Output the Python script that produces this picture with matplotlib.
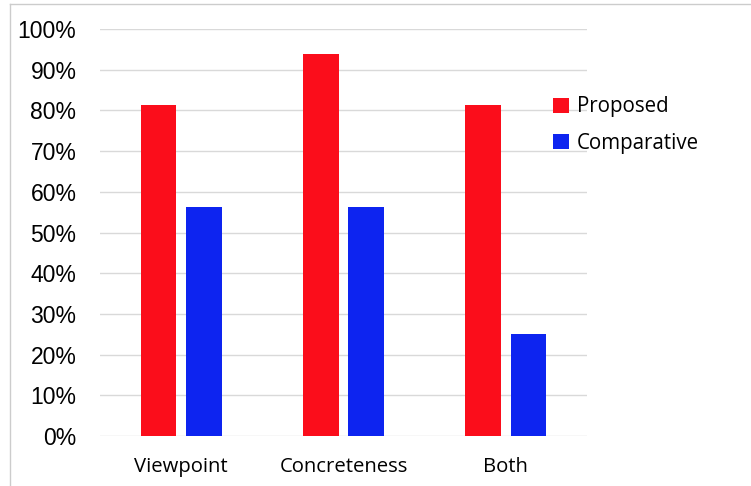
import matplotlib

matplotlib.use("Agg")
import matplotlib.pyplot as plt  # noqa: E402
import numpy as np  # noqa: E402
from matplotlib.lines import Line2D  # noqa: E402

categories = ["Viewpoint", "Concreteness", "Both"]
proposed = [81.25, 93.75, 81.25]
comparative = [56.25, 56.25, 25.0]
yticks = [0, 10, 20, 30, 40, 50, 60, 70, 80, 90, 100]

RED = "#fb0d1b"
BLUE = "#0d24f0"
GRID = "#d9d9d9"

fig = plt.figure(figsize=(7.51, 4.86), dpi=100)
ax = fig.add_axes([0.1332, 0.1029, 0.6484, 0.8374])

x = np.arange(len(categories))
w = 0.22
ax.bar(x - 0.14, proposed, w, color=RED, label="Proposed", zorder=3)
ax.bar(x + 0.14, comparative, w, color=BLUE, label="Comparative", zorder=3)

ax.set_xlim(-0.5, 2.5)
ax.set_ylim(0, 100)
ax.set_yticks(yticks)
ax.set_yticklabels([f"{v}%" for v in yticks], fontsize=16.5, family="Liberation Sans")
ax.set_xticks(x)
ax.set_xticklabels(categories, fontsize=14.6, family="Open Sans")
ax.tick_params(axis="y", length=0, pad=17)
ax.tick_params(axis="x", length=0, pad=15)
ax.grid(axis="y", color=GRID, linewidth=1)
ax.set_axisbelow(True)
for side in ("top", "right", "left", "bottom"):
    ax.spines[side].set_visible(False)

fig.legend(
    loc="upper left",
    bbox_to_anchor=(0.712, 0.84),
    frameon=False,
    prop={"family": "Open Sans", "size": 14.8},
    handlelength=0.75,
    handleheight=0.75,
    handletextpad=0.4,
    labelspacing=0.75,
)

# thin gray frame lines (top and left) as in the screenshot
fig.add_artist(Line2D([10 / 751, 10 / 751], [0, 1 - 4 / 486],
                      transform=fig.transFigure, color="#cccccc", linewidth=1))
fig.add_artist(Line2D([10 / 751, 1], [1 - 4 / 486, 1 - 4 / 486],
                      transform=fig.transFigure, color="#cccccc", linewidth=1))

fig.savefig("out.png", dpi=100)
